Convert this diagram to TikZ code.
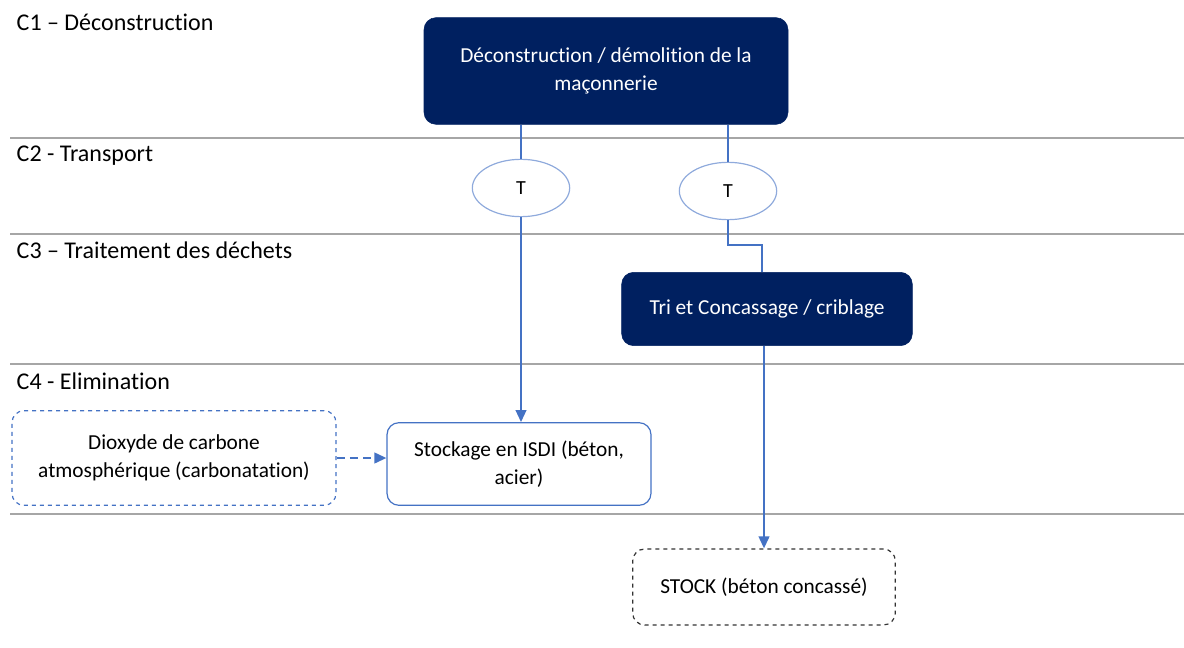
\documentclass[tikz,border=0pt]{standalone}
\usepackage{fontspec}
\setmainfont[RawFeature={-liga}]{Carlito}
\usetikzlibrary{arrows.meta}
\usetikzlibrary{positioning, shapes.geometric}
\usepackage{xcolor}
\definecolor{navy}{HTML}{002060}
\definecolor{flow}{HTML}{4472C4}
\definecolor{rim}{HTML}{8FAADC}
\definecolor{sep}{HTML}{A6A6A6}

\begin{document}
\begin{tikzpicture}[x=0.75pt, y=-0.75pt,
  phase/.style={anchor=west, font=\fontsize{18}{20}\selectfont},
  darkbox/.style={draw=navy, fill=navy, text=white, rounded corners=9pt, align=center, font=\fontsize{16}{21}\selectfont},
  lightbox/.style={draw=flow, line width=0.9pt, rounded corners=9pt, align=center, font=\fontsize{16}{21}\selectfont},
  dashbox/.style={draw=flow, line width=0.9pt, dashed, rounded corners=9pt, align=center, font=\fontsize{16}{21}\selectfont},
  stockbox/.style={draw=black!80, line width=0.9pt, dashed, rounded corners=9pt, align=center, font=\fontsize{16}{21}\selectfont},
  truck/.style={draw=rim, line width=0.9pt, ellipse, minimum width=73pt, minimum height=43pt, inner sep=0pt, font=\fontsize{15}{16}\selectfont},
  link/.style={flow, line width=1.5pt},
  tip/.style={-{Triangle[length=9pt, width=8pt]}}
]
\useasboundingbox (0,0) rectangle (1184,648);

%phase separators
\draw[sep, line width=1.5pt] (10,138) -- (1184,138);
\draw[sep, line width=1.5pt] (10,234) -- (1184,234);
\draw[sep, line width=1.5pt] (10,364) -- (1184,364);
\draw[sep, line width=1.5pt] (10,514) -- (1184,514);

%phase labels
\node[phase] (c1) at (12,22) {C1 – Déconstruction};
\node[phase] (c2) at (12,156) {C2 - Transport};
\node[phase] (c3) at (12,250) {C3 – Traitement des déchets};
\node[phase] (c4) at (12,381) {C4 - Elimination};

%boxes
\node[darkbox, minimum width=273pt, minimum height=80pt] (demol) at (606,71) {Déconstruction / démolition de la\\maçonnerie};
\node[truck] (t1) at (521,188) {T};
\node[truck] (t2) at (728,191) {T};
\node[darkbox, minimum width=218pt, minimum height=55pt] (tri) at (767,309) {Tri et Concassage / criblage};
\node[lightbox, minimum width=198pt, minimum height=62pt] (isdi) at (519,464) {Stockage en ISDI (béton,\\acier)};
\node[dashbox, minimum width=243pt, minimum height=71pt] (co2) at (174,458) {Dioxyde de carbone\\atmosphérique (carbonatation)};
\node[stockbox, minimum width=197pt, minimum height=57pt] (stock) at (764,587) {STOCK (béton concassé)};
\coordinate (bend) at (762,245);

%connectors
\draw[link] (demol.south -| t1.north) -- (t1.north);
\draw[link] (demol.south -| t2.north) -- (t2.north);
\draw[link, tip] (t1.south) -- (isdi.north -| t1.south);
\draw[link] (t2.south) |- (bend) -- (bend |- tri.north);
\draw[link, tip] (stock.north |- tri.south) -- (stock.north);
\draw[link, tip, dash pattern=on 6pt off 4pt] (co2.east) -- (isdi.west |- co2.east);

\end{tikzpicture}
\end{document}
